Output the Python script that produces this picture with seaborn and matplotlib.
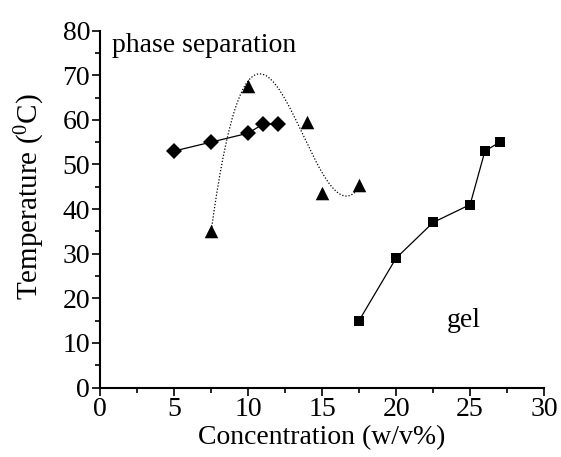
import numpy as np
import pandas as pd
import matplotlib
matplotlib.use("Agg")
import matplotlib.pyplot as plt
import seaborn as sns
from matplotlib.ticker import MultipleLocator

# data
diamond_x = [5, 7.5, 10, 11, 12]
diamond_y = [53, 55, 57, 59, 59]
triangle_x = [7.5, 10, 14, 15, 17.5]
triangle_y = [35, 67.5, 59.5, 43.5, 45.5]
square_x = [17.5, 20, 22.5, 25, 26, 27]
square_y = [15, 29, 37, 41, 53, 55]

sns.set_theme(style="ticks")
plt.rcParams['font.family'] = ['Liberation Serif', 'DejaVu Serif']
plt.rcParams['mathtext.fontset'] = 'custom'
plt.rcParams['mathtext.rm'] = 'Liberation Serif'

fig = plt.figure(figsize=(5.61, 4.57), dpi=100)
ax = fig.add_axes([0.178, 0.152, 0.792, 0.781])

# smooth fitted curve through triangle data (cubic least-squares)
coef = np.polyfit(triangle_x, triangle_y, 3)
xs = np.linspace(min(triangle_x), max(triangle_x), 200)
fit = pd.DataFrame({"x": xs, "y": np.polyval(coef, xs)})
sns.lineplot(data=fit, x="x", y="y", ax=ax, color="black", linestyle=(0, (1, 1.5)),
             linewidth=0.9)

d = pd.DataFrame({"x": diamond_x, "y": diamond_y})
sns.lineplot(data=d, x="x", y="y", ax=ax, color="black", linewidth=0.9,
             marker="D", markersize=8, markeredgewidth=0)
t = pd.DataFrame({"x": triangle_x, "y": triangle_y})
sns.scatterplot(data=t, x="x", y="y", ax=ax, color="black", marker="^", s=95,
                linewidth=0)
s = pd.DataFrame({"x": square_x, "y": square_y})
sns.lineplot(data=s, x="x", y="y", ax=ax, color="black", linewidth=0.9,
             marker="s", markersize=7.5, markeredgewidth=0)

ax.set_xlim(0, 30)
ax.set_ylim(0, 80)
ax.xaxis.set_major_locator(MultipleLocator(5))
ax.xaxis.set_minor_locator(MultipleLocator(2.5))
ax.yaxis.set_major_locator(MultipleLocator(10))
ax.yaxis.set_minor_locator(MultipleLocator(5))
ax.tick_params(which="major", direction="out", length=6, width=1.2, labelsize=20,
               color="black", labelcolor="black", pad=1)
ax.tick_params(which="minor", direction="out", length=3.5, width=1.2, color="black")
for sp in ["top", "right"]:
    ax.spines[sp].set_visible(False)
for sp in ["left", "bottom"]:
    ax.spines[sp].set_linewidth(1.5)
    ax.spines[sp].set_color("black")

ax.set_xlabel("Concentration (w/v%)", fontsize=20, color="black", labelpad=2)
ax.set_ylabel(r"Temperature ($\mathregular{^0}$C)", fontsize=21, color="black")
ax.yaxis.set_label_coords(-0.12, 0.535)

ax.text(0.8, 75.2, "phase separation", fontsize=20, color="black", va="baseline", ha="left")
ax.text(23.4, 13.6, "gel", fontsize=20, color="black", va="baseline", ha="left")

fig.savefig("out.png", dpi=100)
